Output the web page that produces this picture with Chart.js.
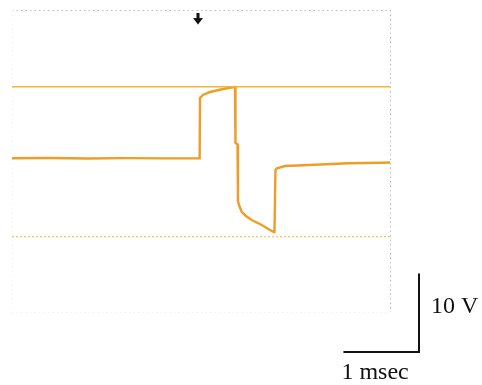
<!DOCTYPE html>
<html>
<head>
<meta charset="utf-8">
<script src="https://cdn.jsdelivr.net/npm/chart.js@4"></script>
<style>
html,body{margin:0;padding:0;background:#fff;}
#c{display:block;}
</style>
</head>
<body>
<canvas id="c" width="482" height="385"></canvas>
<script>
// ---- data (time in ms, voltage in V; 0.5 ms/div, 5 V/div) ----
const timeMs  = [0, 0.5, 1.0, 1.5, 2.0, 2.47, 2.482, 2.487, 2.526, 2.619, 2.791, 2.937, 2.950, 2.956, 2.983, 2.989, 3.003, 3.038, 3.095, 3.171, 3.303, 3.452, 3.472, 3.485, 3.505, 3.611, 4.008, 4.444, 4.894, 5.0];
const voltage = [0.36, 0.40, 0.33, 0.38, 0.35, 0.37, 0.36, 8.34, 8.74, 9.14, 9.54, 9.80, 9.80, 2.38, 2.22, -5.30, -5.83, -6.72, -7.28, -7.81, -8.48, -9.36, -9.40, -1.19, -0.97, -0.66, -0.49, -0.30, -0.23, -0.20];
const refUpperV = [9.84, 9.84];
const refLowerV = [-10.03, -10.03];
const refTimeMs = [0, 5];
const triggerMs = [2.46];
const triggerV  = [18.8];
const scaleLabels = ['10 V', '1 msec'];
const scaleBarValues = { ms: 1, volts: 10 };

// ---- trigger arrow marker image ----
const arrow = document.createElement('canvas');
arrow.width = 10; arrow.height = 12;
(function(){
  const g = arrow.getContext('2d');
  g.fillStyle = '#111';
  g.fillRect(3.5, 0, 3, 6);
  g.beginPath(); g.moveTo(0, 5); g.lineTo(10, 5); g.lineTo(5, 11.5); g.closePath(); g.fill();
})();

const traceData = timeMs.map((t, i) => ({x: t, y: voltage[i]}));
const upperData = refTimeMs.map((t, i) => ({x: t, y: refUpperV[i]}));
const lowerData = refTimeMs.map((t, i) => ({x: t, y: refLowerV[i]}));
const trigData  = triggerMs.map((t, i) => ({x: t, y: triggerV[i]}));

const framePlugin = {
  id: 'frame',
  beforeDatasetsDraw(chart) {
    const {ctx, chartArea: a} = chart;
    ctx.save();
    ctx.lineWidth = 1;
    ctx.setLineDash([1.5, 3]);
    ctx.strokeStyle = '#bdbdbd';
    ctx.beginPath(); ctx.moveTo(a.left, a.top + 0.5); ctx.lineTo(a.right, a.top + 0.5); ctx.stroke();
    ctx.beginPath(); ctx.moveTo(a.right + 0.5, a.top); ctx.lineTo(a.right + 0.5, a.bottom); ctx.stroke();
    ctx.strokeStyle = '#f2f2f2';
    ctx.beginPath(); ctx.moveTo(a.left, a.bottom + 0.5); ctx.lineTo(a.right, a.bottom + 0.5); ctx.stroke();
    ctx.beginPath(); ctx.moveTo(a.left + 0.5, a.top); ctx.lineTo(a.left + 0.5, a.bottom); ctx.stroke();
    ctx.restore();
  },
  afterDraw(chart) {
    const {ctx, chartArea: a, scales: {x, y}} = chart;
    const hLen = x.getPixelForValue(scaleBarValues.ms) - x.getPixelForValue(0);
    const vLen = y.getPixelForValue(0) - y.getPixelForValue(scaleBarValues.volts);
    const rx = a.right + 29, by = a.bottom + 40;
    ctx.save();
    ctx.strokeStyle = '#111';
    ctx.lineWidth = 2;
    ctx.beginPath();
    ctx.moveTo(rx, by - vLen - 3);
    ctx.lineTo(rx, by);
    ctx.lineTo(rx - hLen, by);
    ctx.stroke();
    ctx.fillStyle = '#111';
    ctx.font = '24px "Liberation Serif", "DejaVu Serif", serif';
    ctx.textBaseline = 'alphabetic';
    ctx.textAlign = 'left';
    ctx.fillText(scaleLabels[0], rx + 12, by - 39);
    ctx.fillText(scaleLabels[1], rx - hLen - 2, by + 27);
    ctx.restore();
  }
};

new Chart(document.getElementById('c'), {
  type: 'line',
  data: {
    datasets: [
      { data: upperData, borderColor: '#f2b53a', borderWidth: 1.6, pointRadius: 0, tension: 0 },
      { data: lowerData, borderColor: 'rgba(242,190,80,0.8)', borderWidth: 1.4, borderDash: [2, 2], pointRadius: 0, tension: 0 },
      { data: traceData, borderColor: '#ee9d26', borderWidth: 2.4, pointRadius: 0, tension: 0 },
      { data: trigData, showLine: false, pointStyle: arrow, pointRadius: 6 }
    ]
  },
  options: {
    responsive: false,
    animation: false,
    layout: { padding: { left: 12, top: 10, right: 92, bottom: 73 } },
    plugins: { legend: { display: false }, tooltip: { enabled: false } },
    scales: {
      x: { type: 'linear', min: 0, max: 5, display: false },
      y: { type: 'linear', min: -20, max: 20, display: false }
    }
  },
  plugins: [framePlugin]
});
</script>
</body>
</html>
